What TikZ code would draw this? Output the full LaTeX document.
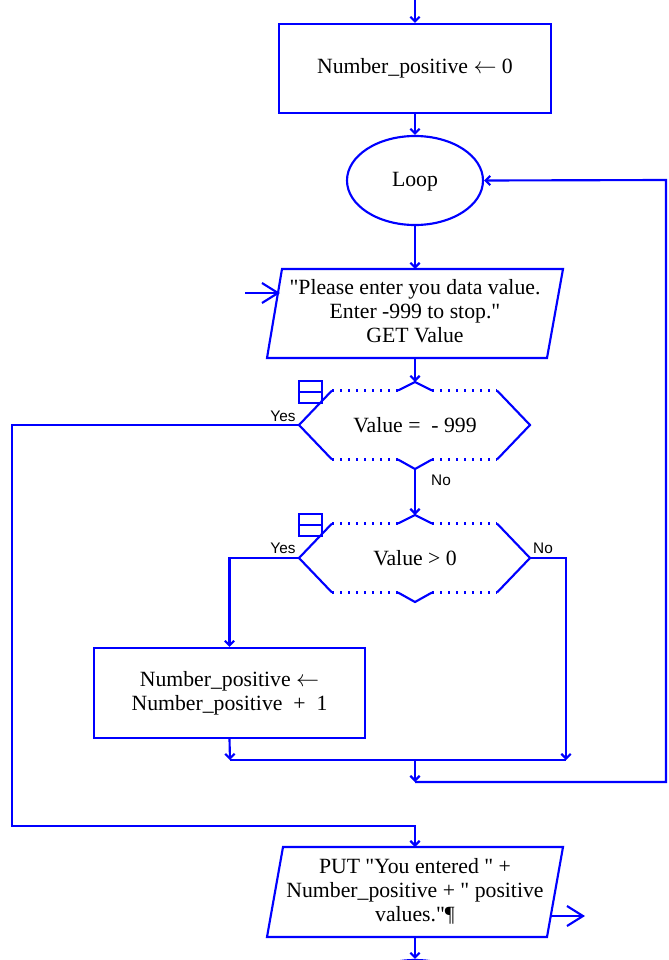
\documentclass[tikz,border=0pt]{standalone}
\usepackage{fontspec}
\setmainfont{Liberation Serif}[Ligatures=TeXOff]
\newfontfamily\labelfont{Liberation Sans}
\usetikzlibrary{arrows.meta,shapes.geometric}
\definecolor{fc}{RGB}{0,0,255}
\begin{document}
\begin{tikzpicture}[x=0.75pt,y=-0.75pt,
  flow/.style={draw=fc, line width=1.6pt},
  arr/.style={flow,-{Straight Barb[length=3.5pt,width=7pt,line width=1.6pt]}},
  openarr/.style={flow,-{Straight Barb[length=12pt,width=15pt,line width=1.6pt]}},
  dotline/.style={flow,dash pattern=on 1.5pt off 4.5pt},
  txt/.style={font=\fontsize{16.3pt}{18pt}\selectfont, align=center, inner sep=0pt},
  lbl/.style={font=\labelfont\fontsize{11.5pt}{13pt}\selectfont, inner sep=0pt},
  procbox/.style={flow, rectangle, txt},
  decision/.pic={
    \draw[flow] (-83,-34.5) -- (-116,0) -- (-83,34.5);
    \draw[flow] (82,-34.5) -- (115,0) -- (82,34.5);
    \draw[dotline] (-83,-34.5) -- (-17,-34.5);
    \draw[dotline] (17,-34.5) -- (82,-34.5);
    \draw[dotline] (-83,34.5) -- (-17,34.5);
    \draw[dotline] (17,34.5) -- (82,34.5);
    \draw[flow] (-17,-34.5) -- (0,-43) -- (17,-34.5);
    \draw[flow] (-17,34.5) -- (0,44) -- (17,34.5);
    \draw[flow] (-116,-44) rectangle (-93,-22);
    \draw[flow] (-116,-33) -- (-93,-33);
    \coordinate (-top) at (0,-43);
    \coordinate (-bot) at (0,44);
    \coordinate (-left) at (-116,0);
    \coordinate (-right) at (115,0);
  }]
\useasboundingbox (0,0) rectangle (668,960);

% process boxes and the loop head
\node[procbox, minimum width=204pt, minimum height=66.75pt] (b1) at (415,68.5)
  {Number\_positive $\leftarrow$ 0};
\node[flow, ellipse, txt, minimum width=102pt, minimum height=66.75pt] (loop) at (415,180.5) {};
\node[txt] (looptext) at (415,182) {Loop};
\node[procbox, minimum width=203.25pt, minimum height=67.5pt] (b2) at (229.5,693)
  {Number\_positive $\leftarrow$\\Number\_positive~ +~ 1};

% input parallelogram
\draw[flow] (282,269) -- (563,269) -- (547,358) -- (267,358) -- cycle;
\coordinate (in-top) at (415,269);
\coordinate (in-bot) at (415,358);
\coordinate (in-port) at (280,293);
\coordinate (in-src) at (245,293);
\node[txt] (intext) at (415,311)
  {"Please enter you data value.\\Enter -999 to stop."\\GET Value};

% decisions
\pic (d1) at (415,425) {decision};
\node[txt] (d1text) at (415,425) {Value = ~- 999};
\pic (d2) at (415,558) {decision};
\node[txt] (d2text) at (415,558) {Value > 0};

% output parallelogram
\draw[flow] (283,847) -- (563,847) -- (547,937) -- (267,937) -- cycle;
\coordinate (out-top) at (415,847);
\coordinate (out-bot) at (415,937);
\coordinate (out-port) at (550,916);
\coordinate (out-dst) at (585,916);
\node[txt] (outtext) at (415,891)
  {PUT "You entered " +\\Number\_positive + " positive\\values."¶};

% next step, mostly below the page edge
\node[flow, ellipse, minimum width=102pt, minimum height=66.75pt] (next) at (415,1004.5) {};

% labels
\node[lbl] (y1) at (283,416) {Yes};
\node[lbl] (n1) at (441,480) {No};
\node[lbl] (y2) at (283,548) {Yes};
\node[lbl] (n2) at (543,548) {No};

% junction points
\coordinate (start) at (415,0);
\coordinate (railtop) at (12,425);
\coordinate (railbot) at (12,826);
\coordinate (join3) at (415,826);
\coordinate (joinL) at (230,760);
\coordinate (joinR) at (566,760);
\coordinate (merge1) at (415,760);
\coordinate (merge2) at (415,782);
\coordinate (backB) at (666,782);
\coordinate (backT) at (666,180);

% connectors
\draw[arr] (start) -- (b1.north);
\draw[arr] (b1.south) -- (loop.north);
\draw[arr] (loop.south) -- (in-top);
\draw[openarr] (in-src) -- (in-port);
\draw[arr] (in-bot) -- (d1-top);
\draw[arr] (d1-bot) -- (d2-top);
\draw[arr] (d1-left) -- (railtop) -- (railbot) -- (join3) -- (out-top);
\draw[arr] (d2-left) -| (b2.north);
\draw[arr] (b2.south) -- (joinL);
\draw[arr] (d2-right) -| (joinR);
\draw[flow] (joinL) -- (joinR);
\draw[arr] (merge1) -- (merge2);
\draw[arr] (merge2) -- (backB) -- (backT) -- (loop.east);
\draw[arr] (out-bot) -- (next.north);
\draw[openarr] (out-port) -- (out-dst);
\end{tikzpicture}
\end{document}
